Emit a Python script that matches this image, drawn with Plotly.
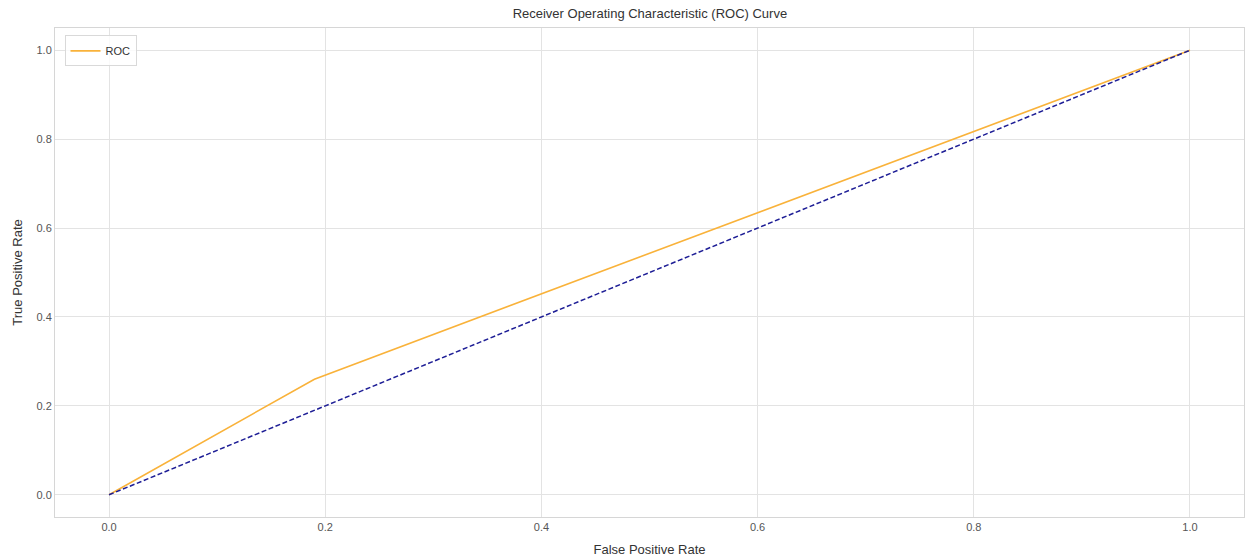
import plotly.graph_objects as go

# ROC curve points
fpr = [0.0, 0.19, 1.0]
tpr = [0.0, 0.26, 1.0]

# chance diagonal
diag_x = [0.0, 1.0]
diag_y = [0.0, 1.0]

tick_vals = [0.0, 0.2, 0.4, 0.6, 0.8, 1.0]
tick_text = ["0.0", "0.2", "0.4", "0.6", "0.8", "1.0"]

FONT = "Liberation Sans, Arial, sans-serif"

fig = go.Figure()
fig.add_trace(go.Scatter(x=fpr, y=tpr, mode="lines", name="ROC",
                         line=dict(color="#F9B23A", width=1.6)))
fig.add_trace(go.Scatter(x=diag_x, y=diag_y, mode="lines", showlegend=False,
                         line=dict(color="#1E1E96", width=1.5, dash="5px,2.5px")))

axis_common = dict(
    tickvals=tick_vals, ticktext=tick_text,
    showgrid=True, gridcolor="#e3e3e3", gridwidth=1,
    zeroline=False, showline=True, linecolor="#d6d6d6", linewidth=1,
    mirror=True, ticks="", automargin=False,
    tickfont=dict(size=11, color="#555555", family=FONT),
)

fig.update_layout(
    width=1251, height=559,
    margin=dict(l=55, r=7, t=28, b=42),
    paper_bgcolor="white", plot_bgcolor="white",
    font=dict(family=FONT, color="#333333"),
    title=dict(text="Receiver Operating Characteristic (ROC) Curve",
               x=0.5195, xanchor="center", y=0.984, yanchor="top",
               font=dict(size=13, color="#333333", family=FONT)),
    xaxis=dict(range=[-0.05, 1.05],
               title=dict(text="False Positive Rate", font=dict(size=13), standoff=12),
               **axis_common),
    yaxis=dict(range=[-0.05, 1.05],
               title=dict(text="True Positive Rate", font=dict(size=13), standoff=10),
               **axis_common),
    legend=dict(x=0.008, y=0.985, xanchor="left", yanchor="top",
                bgcolor="rgba(255,255,255,0.8)", bordercolor="#d9d9d9", borderwidth=1,
                font=dict(size=11, color="#333333", family=FONT),
                itemwidth=30),
    showlegend=True,
)

fig.write_html("out.html")
